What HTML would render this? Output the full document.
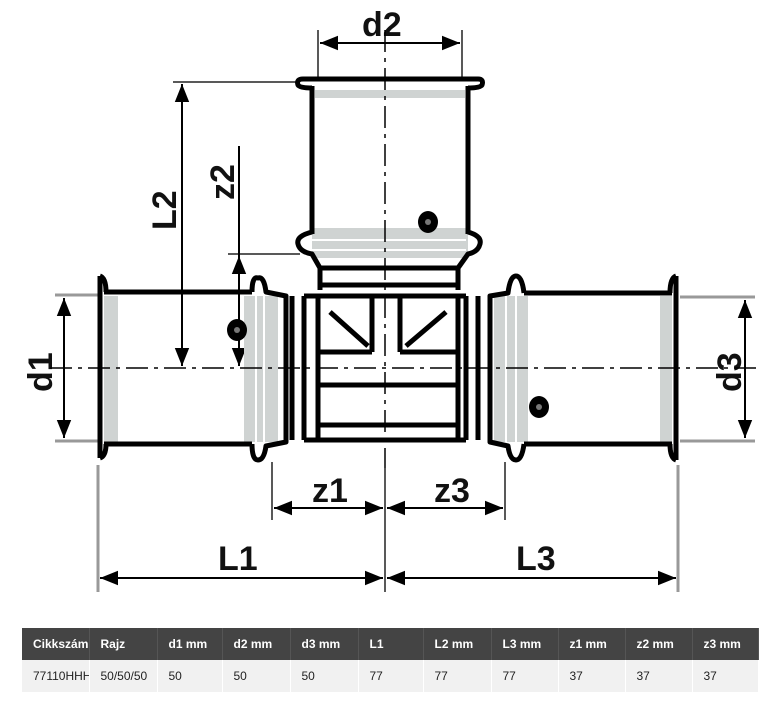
<!DOCTYPE html>
<html><head><meta charset="utf-8"><style>
body{margin:0;background:#fff;width:770px;height:705px;overflow:hidden;font-family:"Liberation Sans",sans-serif}
svg{position:absolute;left:0;top:0}
table{position:absolute;left:22px;top:628px;width:736px;border-collapse:collapse;font-size:12px;table-layout:fixed}
th{background:#444;color:#fff;height:32px;text-align:left;padding:0 0 0 11px;font-weight:bold;white-space:nowrap;overflow:hidden;border-right:1px solid #555}
td{background:#f1f1f1;color:#222;height:32px;padding:0 0 0 11px;white-space:nowrap;overflow:hidden;border-right:1px solid #fff}
</style></head><body>
<svg width="770" height="620" viewBox="0 0 770 620">
<defs>
<marker id="a" viewBox="0 0 10 10" refX="10" refY="5" markerWidth="9" markerHeight="9" orient="auto-start-reverse"><path d="M0,1L10,5L0,9z" fill="#000"/></marker>
</defs>
<g font-family="Liberation Sans,sans-serif" font-size="34" font-weight="bold" fill="#111">
<text x="362" y="36">d2</text>
<text x="312" y="502">z1</text>
<text x="434" y="502">z3</text>
<text x="218" y="570">L1</text>
<text x="516" y="570">L3</text>
<text transform="translate(176,230) rotate(-90)">L2</text>
<text transform="translate(234,200) rotate(-90)">z2</text>
<text transform="translate(52,392) rotate(-90)">d1</text>
<text transform="translate(741,392) rotate(-90)">d3</text>
</g>
<g stroke="#999" stroke-width="3" fill="none">
<path d="M55 295H100M55 441H100M680 297H755M680 441H755M98 465V592M678 465V592"/>
</g>
<g stroke="#222" stroke-width="1.5" fill="none">
<path d="M173 82H300M228 254H300M272 462V520M505 462V520M318 30V80M462 30V80M385 468V592"/>
</g>
<g stroke="#000" stroke-width="2" fill="none">
<line x1="320" y1="43" x2="460" y2="43" marker-start="url(#a)" marker-end="url(#a)"/>
<line x1="182" y1="84" x2="182" y2="366" marker-start="url(#a)" marker-end="url(#a)"/>
<line x1="239" y1="146" x2="239" y2="366" marker-end="url(#a)"/>
<line x1="239" y1="300" x2="239" y2="256" marker-end="url(#a)"/>
<line x1="64" y1="298" x2="64" y2="438" marker-start="url(#a)" marker-end="url(#a)"/>
<line x1="745" y1="300" x2="745" y2="438" marker-start="url(#a)" marker-end="url(#a)"/>
<line x1="274" y1="508" x2="383" y2="508" marker-start="url(#a)" marker-end="url(#a)"/>
<line x1="387" y1="508" x2="503" y2="508" marker-start="url(#a)" marker-end="url(#a)"/>
<line x1="100" y1="578" x2="383" y2="578" marker-start="url(#a)" marker-end="url(#a)"/>
<line x1="387" y1="578" x2="676" y2="578" marker-start="url(#a)" marker-end="url(#a)"/>
</g>
<g fill="#cfd3d2">
<rect x="104" y="296" width="14" height="146"/>
<rect x="244" y="296" width="34" height="146"/>
<rect x="494" y="296" width="34" height="146"/>
<rect x="660" y="296" width="12" height="146"/>
<rect x="315" y="90" width="150" height="8"/>
<rect x="312" y="228" width="156" height="30"/>
</g>
<g stroke="#fff" stroke-width="2"><path d="M256 296V442M264 296V442M506 296V442M516 296V442M312 240H466M312 250H466"/></g>
<g stroke="#000" stroke-width="5" fill="none" stroke-linejoin="round">
<path d="M303 79H478Q484 79 482 85Q480 88 468 88M303 79Q296 79 298 85Q300 88 312 88"/>
<path d="M312 86V234M468 86V234"/>
<path d="M312 232Q296 236 298 244Q300 252 312 254L320 268V290M468 232Q482 236 480 244Q478 252 468 254L458 268V290"/>
<path d="M320 268H458M320 285H458"/>
<path d="M100 276V458M104 292H252M104 444H252"/>
<path d="M252 292Q252 276 258 278Q264 276 266 292L286 296V442L266 446Q264 460 258 460Q252 460 252 444"/>
<path d="M100 276Q106 278 106 292M100 458Q106 456 106 444"/>
<path d="M676 276V460M672 293H524M672 444H524"/>
<path d="M676 276Q670 278 670 293M676 460Q670 458 670 444"/>
<path d="M524 293Q522 276 516 276Q510 276 508 293L490 296V442L508 446Q510 460 516 460Q522 460 524 444"/>
<path d="M292 296V440M304 296V440M466 296V440M478 296V440"/>
<path d="M304 296H466M304 440H466M318 385H460M318 425H460M318 352H372M400 352H460"/>
<path d="M318 298V440M458 298V440"/>
<path d="M372 298V352M400 298V352M330 312L368 346M446 312L406 346"/>
</g>
<g stroke="#000" stroke-width="1.5" fill="none" stroke-dasharray="22,6,4,6">
<path d="M385 30V468M50 368H760"/>
</g>
<g fill="#000"><ellipse cx="428" cy="222" rx="10" ry="11"/><ellipse cx="237" cy="330" rx="10" ry="11"/><ellipse cx="539" cy="407" rx="10" ry="11"/></g>
<g fill="#777"><circle cx="428" cy="222" r="3"/><circle cx="237" cy="330" r="3"/><circle cx="539" cy="407" r="3"/></g>
</svg>
<table>
<colgroup><col style="width:67px"><col style="width:68px"><col style="width:65px"><col style="width:68px"><col style="width:68px"><col style="width:65px"><col style="width:68px"><col style="width:67px"><col style="width:67px"><col style="width:67px"><col style="width:66px"></colgroup>
<tr><th>Cikkszám</th><th>Rajz</th><th>d1 mm</th><th>d2 mm</th><th>d3 mm</th><th>L1</th><th>L2 mm</th><th>L3 mm</th><th>z1 mm</th><th>z2 mm</th><th>z3 mm</th></tr>
<tr><td>77110HHH</td><td>50/50/50</td><td>50</td><td>50</td><td>50</td><td>77</td><td>77</td><td>77</td><td>37</td><td>37</td><td>37</td></tr>
</table>
</body></html>
